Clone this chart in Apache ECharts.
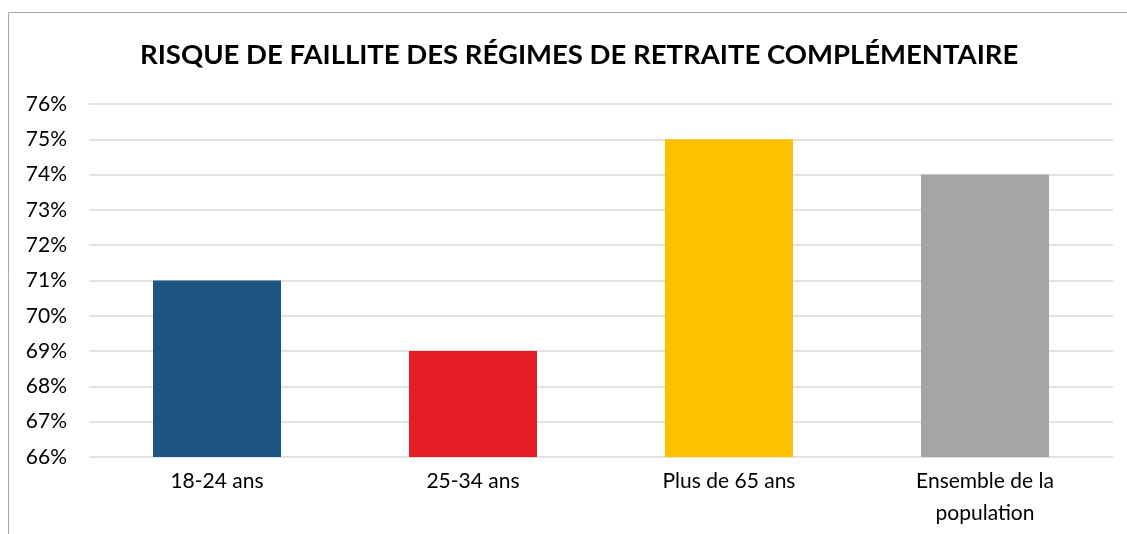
<!DOCTYPE html>
<html>
<head>
<meta charset="utf-8">
<script src="https://cdn.jsdelivr.net/npm/echarts@6/dist/echarts.min.js"></script>
<style>
  html, body { margin: 0; padding: 0; background: #fff; }
  #chart { width: 1127px; height: 534px; }
</style>
</head>
<body>
<div id="chart"></div>
<script>
// data
const titleText = 'RISQUE DE FAILLITE DES RÉGIMES DE RETRAITE COMPLÉMENTAIRE';
const categories = ['18-24 ans', '25-34 ans', 'Plus de 65 ans', 'Ensemble de la\npopulation'];
const values = [71, 69, 75, 74];
const barColors = ['#1F5582', '#E51E25', '#FFC000', '#A5A5A5'];

const chart = echarts.init(document.getElementById('chart'), null, { renderer: 'canvas' });

chart.setOption({
  animation: false,
  textStyle: { fontFamily: 'Lato, "Open Sans", sans-serif' },
  title: {
    text: titleText,
    left: 135,
    top: 36,
    textStyle: { fontSize: 27.5, fontWeight: 'bold', color: '#000', fontFamily: 'Lato, sans-serif' }
  },
  graphic: [
    // chart frame (left + top edges visible)
    { type: 'line', shape: { x1: 8.5, y1: 12.5, x2: 1127, y2: 12.5 }, style: { stroke: '#A6A6A6', lineWidth: 1 } },
    { type: 'line', shape: { x1: 8.5, y1: 12.5, x2: 8.5, y2: 534 }, style: { stroke: '#A6A6A6', lineWidth: 1 } }
  ],
  grid: { left: 89, right: 14, top: 104, bottom: 77, containLabel: false },
  xAxis: {
    type: 'category',
    data: categories,
    axisLine: { show: false },
    axisTick: { show: false },
    axisLabel: { color: '#000', fontSize: 21, margin: 8, lineHeight: 32 }
  },
  yAxis: {
    type: 'value',
    min: 66,
    max: 76,
    interval: 1,
    axisLine: { show: false },
    axisTick: { show: false },
    axisLabel: { color: '#000', fontSize: 21, margin: 22, formatter: '{value}%' },
    splitLine: { lineStyle: { color: '#D9D9D9', width: 1.5 } }
  },
  series: [{
    type: 'bar',
    barWidth: '50%',
    data: values.map((v, i) => ({ value: v, itemStyle: { color: barColors[i] } }))
  }]
});
</script>
</body>
</html>
